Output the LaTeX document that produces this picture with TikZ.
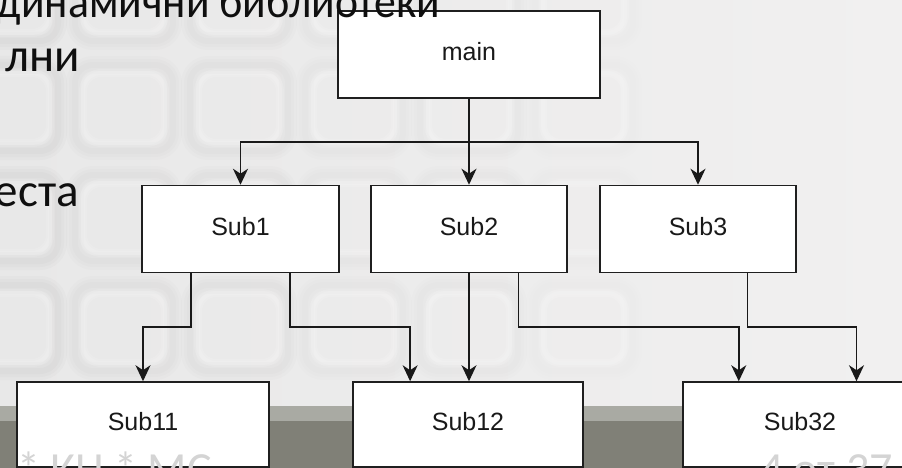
\documentclass[tikz,border=0pt]{standalone}
\usepackage{fontspec}
\setmainfont{Carlito}
\newfontfamily\boxfont{Liberation Sans}
\usetikzlibrary{arrows.meta,calc}
\definecolor{slidebg}{RGB}{241,240,240}
\definecolor{slideleft}{RGB}{232,232,232}
\definecolor{bandlight}{RGB}{169,170,163}
\definecolor{banddark}{RGB}{128,128,119}
\definecolor{footertext}{RGB}{212,212,212}
\definecolor{boxtext}{RGB}{25,25,25}
\definecolor{bodytext}{RGB}{15,15,15}
\begin{document}
\begin{tikzpicture}[x=1pt,y=-1pt,
  block/.style={draw=black!88, line width=1.5pt, fill=white,
    minimum width=#1, minimum height=87pt, inner sep=0pt,
    text height=18pt, text depth=6pt,
    font=\boxfont\fontsize{25}{30}\selectfont, text=boxtext},
  lowblock/.style={block=#1, minimum height=85pt},
  link/.style={draw=black!90, line width=1.5pt,
    -{Stealth[length=16pt,width=15pt,inset=5pt]}},
  body/.style={inner sep=0pt, text=bodytext,
    font=\fontsize{47}{56}\selectfont},
  footer/.style={inner sep=0pt, text=footertext,
    font=\fontsize{46}{55}\selectfont},
  key/.style={rounded corners=18pt}
]
\useasboundingbox (0,0) rectangle (902,468);
\clip (0,0) rectangle (902,468);

% slide background with a soft keyboard texture on the left
\shade[left color=slideleft, right color=slidebg] (0,0) rectangle (902,468);
\foreach \cx/\op in {-40/0.014, 75/0.012, 190/0.011, 305/0.009, 420/0.007, 535/0.005}{
  \foreach \cy in {-45, 65, 175, 285}{
    \foreach \w in {18,12,6}{
      \draw[key, draw=black, opacity=\op, line width=\w pt] (\cx,\cy) rectangle ++(98,86);
    }
    \foreach \w in {8,4}{
      \draw[key, draw=white, opacity=0.12, line width=\w pt] (\cx+8,\cy+8) rectangle ++(82,70);
    }
  }
}

% footer bar
\fill[bandlight] (0,406) rectangle (902,421);
\fill[banddark] (0,421) rectangle (902,468);

% bus levels
\coordinate (busA) at (0,142);
\coordinate (busB) at (0,327);

% boxes
\node[block=262pt] (main) at (469,54.5) {main};
\node[block=197pt] (sub1) at (240.5,229) {Sub1};
\node[block=196pt] (sub2) at (469,229) {Sub2};
\node[block=196pt] (sub3) at (698,229) {Sub3};
\node[lowblock=252pt] (sub11) at (143,424.5) {Sub11};
\node[lowblock=230pt] (sub12) at (468,424.5) {Sub12};
\node[lowblock=234pt] (sub32) at (800,424.5) {Sub32};

% connection points along the box edges
\coordinate (s1a) at ($(sub1.south west)!0.25!(sub1.south east)$);
\coordinate (s1b) at ($(sub1.south west)!0.75!(sub1.south east)$);
\coordinate (s2b) at ($(sub2.south west)!0.75!(sub2.south east)$);
\coordinate (s3b) at ($(sub3.south west)!0.75!(sub3.south east)$);
\coordinate (t12a) at ($(sub12.north west)!0.25!(sub12.north east)$);
\coordinate (t32a) at ($(sub32.north west)!0.24!(sub32.north east)$);
\coordinate (t32b) at ($(sub32.north west)!0.74!(sub32.north east)$);

% first level
\draw[link] (main.south) -- (main.south |- busA) -| (sub1.north);
\draw[link] (main.south) -- (main.south |- sub2.north);
\draw[link] (main.south) -- (main.south |- busA) -| (sub3.north);

% second level
\draw[link] (s1a) -- (s1a |- busB) -| (sub11.north);
\draw[link] (s1b) -- (s1b |- busB) -| (t12a);
\draw[link] (sub2.south) -- (sub2.south |- sub12.north);
\draw[link] (s2b) -- (s2b |- busB) -| (t32a);
\draw[link] (s3b) -- (s3b |- busB) -| (t32b);

% slide text
\node[body, anchor=base east, xscale=0.93] (line1) at (440,18) {динамични библиотеки};
\node[body, anchor=base east] (line2) at (80,72) {лни};
\node[body, anchor=base east] (line3) at (79,206) {еста};

% footer text
\node[footer, anchor=base west] (foot1) at (17,484) {* КН * МС};
\node[footer, anchor=base west] (foot2) at (760,484) {4 от 37};
\end{tikzpicture}
\end{document}
